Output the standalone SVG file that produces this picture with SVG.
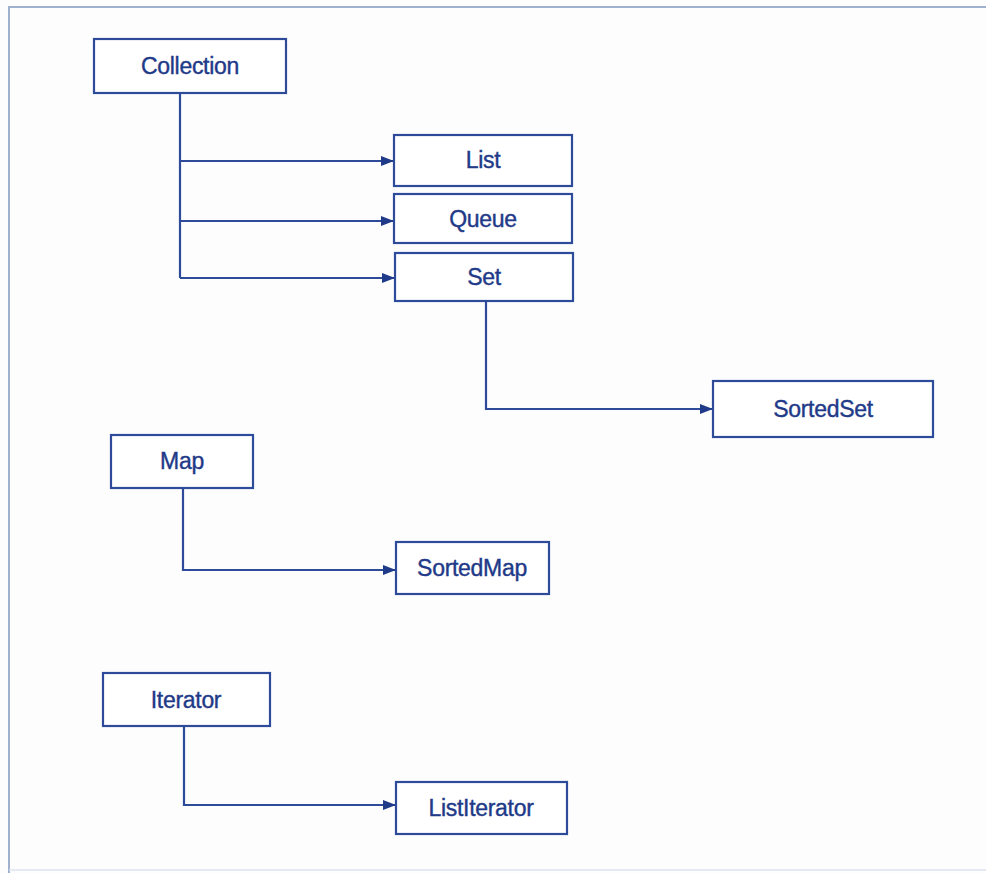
<svg xmlns="http://www.w3.org/2000/svg" width="986" height="873" viewBox="0 0 986 873">
<defs>
<marker id="arr" markerWidth="14" markerHeight="10" refX="13" refY="5" orient="auto" markerUnits="userSpaceOnUse">
<path d="M0,0 L13,5 L0,10 Z" fill="#1f3a88"/>
</marker>
<style>
.box{fill:#ffffff;stroke:#2d4b99;stroke-width:2.2}
.lbl{font-family:"Liberation Sans",Arial,sans-serif;font-size:23px;fill:#1f3a88;stroke:#1f3a88;stroke-width:0.4;text-anchor:middle;letter-spacing:-0.3px}
.con{fill:none;stroke:#2d4b99;stroke-width:2.2}
.frame{fill:none;stroke:#9fb0d0;stroke-width:2}
</style>
</defs>
<rect width="986" height="873" fill="#fdfdfe"/>
<g id="frame">
<path class="frame" d="M986,7 L9,7 L9,873"/>
<line x1="9" y1="870" x2="986" y2="870" stroke="#dde3ee" stroke-width="1.5"/>
</g>
<g id="connectors">
<path class="con" d="M180,93 L180,278"/>
<path class="con" d="M180,161 L394,161" marker-end="url(#arr)"/>
<path class="con" d="M180,221 L394,221" marker-end="url(#arr)"/>
<path class="con" d="M180,278 L395,278" marker-end="url(#arr)"/>
<path class="con" d="M486,301 L486,409 L713,409" marker-end="url(#arr)"/>
<path class="con" d="M183,488 L183,570 L396,570" marker-end="url(#arr)"/>
<path class="con" d="M184,726 L184,805 L396,805" marker-end="url(#arr)"/>
</g>
<g id="collection"><rect class="box" x="94" y="39" width="192" height="54"/><text class="lbl" x="190" y="74">Collection</text></g>
<g id="list"><rect class="box" x="394" y="135" width="178" height="51"/><text class="lbl" x="483" y="168">List</text></g>
<g id="queue"><rect class="box" x="394" y="194" width="178" height="49"/><text class="lbl" x="483" y="227">Queue</text></g>
<g id="set"><rect class="box" x="395" y="253" width="178" height="48"/><text class="lbl" x="484" y="285">Set</text></g>
<g id="sortedset"><rect class="box" x="713" y="381" width="220" height="56"/><text class="lbl" x="823" y="417">SortedSet</text></g>
<g id="map"><rect class="box" x="111" y="435" width="142" height="53"/><text class="lbl" x="182" y="469">Map</text></g>
<g id="sortedmap"><rect class="box" x="396" y="542" width="153" height="52"/><text class="lbl" x="472" y="576">SortedMap</text></g>
<g id="iterator"><rect class="box" x="103" y="673" width="167" height="53"/><text class="lbl" x="186" y="708">Iterator</text></g>
<g id="listiterator"><rect class="box" x="396" y="782" width="171" height="52"/><text class="lbl" x="481" y="816">ListIterator</text></g>
</svg>
